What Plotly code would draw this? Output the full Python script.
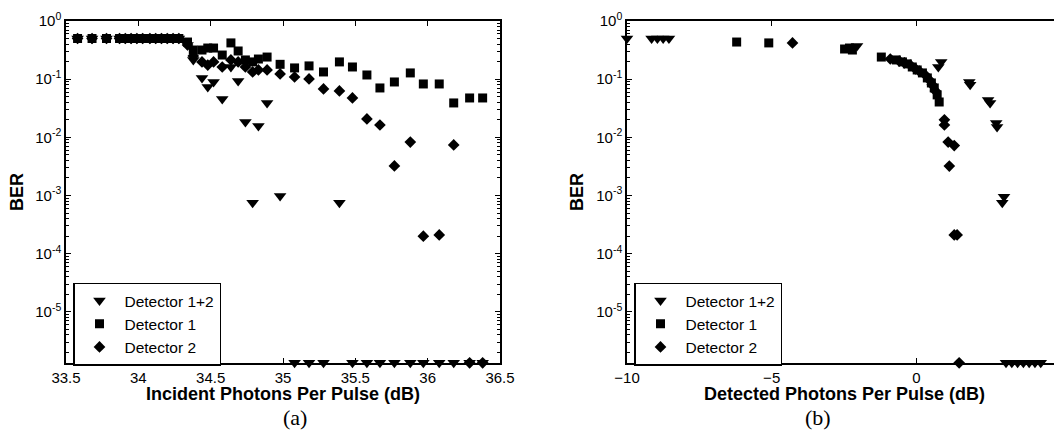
import plotly.graph_objects as go

# ---------------- data: panel (a) ----------------
FLOOR = 1.33e-6  # points plotted on the bottom axis (error-free)

inc_x = [33.58, 33.68, 33.78, 33.87, 33.91, 33.95, 33.99, 34.03, 34.08, 34.12, 34.16,
         34.20, 34.24, 34.28, 34.34, 34.38, 34.44, 34.48, 34.52, 34.58, 34.64, 34.69,
         34.74, 34.79, 34.83, 34.89, 34.98, 35.08, 35.18, 35.28, 35.39, 35.48, 35.58,
         35.67, 35.77, 35.88, 35.97, 36.08, 36.18, 36.29, 36.38]

inc_det12 = [0.5] * 14 + [0.387, 0.214, 0.105, 0.0734, 0.0895, 0.0457, 0.162, 0.093,
                          0.0184, 7.5e-4, 0.0157, 0.039, 9.8e-4,
                          FLOOR, FLOOR, FLOOR, 7.5e-4, FLOOR, FLOOR, FLOOR, FLOOR,
                          FLOOR, FLOOR, FLOOR, FLOOR, FLOOR, FLOOR]
inc_det1 = [0.5] * 14 + [0.435, 0.317, 0.317, 0.343, 0.343, 0.26, 0.42, 0.305, 0.214,
                         0.198, 0.222, 0.24, 0.18, 0.156, 0.169, 0.133, 0.198, 0.162,
                         0.118, 0.0706, 0.0895, 0.128, 0.0827, 0.0827, 0.039, 0.0475,
                         0.0475]
inc_det2 = [0.5] * 14 + [0.387, 0.25, 0.198, 0.175, 0.198, 0.162, 0.214, 0.198, 0.162,
                         0.133, 0.144, 0.144, 0.123, 0.109, 0.101, 0.068, 0.0627,
                         0.0475, 0.0207, 0.0163, 0.00322, 0.0083, 2.0e-4, 2.1e-4,
                         0.0074, FLOOR, FLOOR]

# ---------------- data: panel (b) ----------------
det_x12 = [-10.0, -9.15, -8.95, -8.75, -8.55, -2.05, 0.76, 0.86, 1.83, 1.86, 2.48, 2.55,
           2.76, 2.79, 2.97, 3.03, 3.10, 3.30, 3.50, 3.70, 3.90, 4.10, 4.30]
det_y12 = [0.5, 0.5, 0.5, 0.5, 0.5, 0.372, 0.162, 0.198, 0.0895, 0.08, 0.044, 0.039,
           0.0177, 0.015, 7.5e-4, 9.5e-4, FLOOR, FLOOR, FLOOR, FLOOR, FLOOR, FLOOR, FLOOR]

det_x1 = [-6.21, -5.10, -2.48, -2.31, -2.21, -1.21, -0.69, -0.48, -0.31, -0.14, 0.03,
          0.21, 0.38, 0.52, 0.62, 0.72, 0.79]
det_y1 = [0.435, 0.42, 0.33, 0.343, 0.317, 0.24, 0.214, 0.198, 0.183, 0.162, 0.144,
          0.128, 0.105, 0.086, 0.0706, 0.0537, 0.0405]

det_x2 = [-4.28, -0.90, -0.59, -0.41, -0.21, -0.03, 0.10, 0.31, 0.45, 0.55, 0.66, 0.97,
          0.97, 1.10, 1.31, 1.14, 1.31, 1.41, 1.48]
det_y2 = [0.42, 0.222, 0.205, 0.19, 0.175, 0.15, 0.138, 0.118, 0.097, 0.08, 0.0627,
          0.02, 0.0163, 0.0083, 0.0072, 0.0032, 2.1e-4, 2.1e-4, FLOOR]

series_names = ["Detector 1+2", "Detector 1", "Detector 2"]
y_tickvals = [1e-5, 1e-4, 1e-3, 1e-2, 1e-1, 1]
y_ticktext = ["10<sup>-5</sup>", "10<sup>-4</sup>", "10<sup>-3</sup>", "10<sup>-2</sup>",
              "10<sup>-1</sup>", "10<sup>0</sup>"]
x_ticks_a = [33.5, 34, 34.5, 35, 35.5, 36, 36.5]
x_ticks_b = [-10, -5, 0, 5]

FONT = "Liberation Sans, Arial, sans-serif"
# page body has an 8px margin: figure sits at (8, 8) in the 1062x438 window
OFF = 8
W, H = 1062 - OFF, 438 - OFF

fig = go.Figure()

markers = [dict(symbol="triangle-down", size=11),
           dict(symbol="square", size=9),
           dict(symbol="diamond", size=9)]

for xs, ys, name, mk in zip([inc_x, inc_x, inc_x], [inc_det12, inc_det1, inc_det2],
                            series_names, markers):
    fig.add_trace(go.Scatter(x=xs, y=ys, mode="markers", name=name,
                             marker=dict(color="black", line=dict(width=0), **mk),
                             cliponaxis=False, xaxis="x", yaxis="y", legend="legend"))

for xs, ys, name, mk in zip([det_x12, det_x1, det_x2], [det_y12, det_y1, det_y2],
                            series_names, markers):
    fig.add_trace(go.Scatter(x=xs, y=ys, mode="markers", name=name,
                             marker=dict(color="black", line=dict(width=0), **mk),
                             cliponaxis=False, xaxis="x2", yaxis="y2", legend="legend2"))

def px_x(p):
    return (p - OFF) / W

def px_y(p):
    return (H - (p - OFF)) / H

ydom = [px_y(363), px_y(21)]

minor_vals = [m * 10.0 ** e for e in range(-6, 0) for m in range(2, 10)]

common_x = dict(showline=True, linecolor="black", linewidth=1.5, mirror="ticks",
                ticks="inside", ticklen=5, tickcolor="black", showgrid=False,
                zeroline=False, automargin=False,
                tickfont=dict(family=FONT, size=15, color="black"))
common_y = dict(type="log", range=[-5.88, 0], showline=True, linecolor="black",
                linewidth=1.5, mirror="ticks", ticks="inside", ticklen=5,
                tickcolor="black", showgrid=False, zeroline=False, automargin=False,
                tickmode="array", tickvals=y_tickvals, ticktext=y_ticktext,
                tickfont=dict(family=FONT, size=15, color="black"),
                minor=dict(tickmode="array", tickvals=minor_vals, ticks="inside",
                           ticklen=3, tickcolor="black", showgrid=False),
                domain=ydom)

legend_common = dict(xanchor="left", yanchor="middle", bgcolor="white",
                     bordercolor="black", borderwidth=1.5,
                     font=dict(family=FONT, size=15.5, color="black"),
                     itemwidth=40, tracegroupgap=0)

fig.update_layout(
    width=W, height=H,
    margin=dict(l=0, r=0, t=0, b=0, autoexpand=False),
    paper_bgcolor="white", plot_bgcolor="white",
    font=dict(family=FONT, color="black"),
    xaxis=dict(domain=[px_x(66), px_x(500)], range=[33.5, 36.5],
               tickmode="array", tickvals=x_ticks_a, anchor="y", **common_x),
    yaxis=dict(anchor="x", **common_y),
    xaxis2=dict(domain=[px_x(627), px_x(1061)], range=[-10, 5],
                tickmode="array", tickvals=x_ticks_b, anchor="y2", **common_x),
    yaxis2=dict(anchor="x2", **common_y),
    legend=dict(x=px_x(73), y=px_y(324), **legend_common),
    legend2=dict(x=px_x(634), y=px_y(324), **legend_common),
    showlegend=True,
)

title_font = dict(family=FONT, size=18, color="black", weight="bold")
annots = [
    dict(text="Incident Photons Per Pulse (dB)", x=px_x(283), y=px_y(394), font=title_font),
    dict(text="Detected Photons Per Pulse (dB)", x=px_x(844), y=px_y(394), font=title_font),
    dict(text="BER", x=px_x(17), y=px_y(192), textangle=-90, font=title_font),
    dict(text="BER", x=px_x(577), y=px_y(192), textangle=-90, font=title_font),
    dict(text="(a)", x=px_x(295), y=px_y(417),
         font=dict(family="Liberation Serif, Times New Roman, serif", size=22, color="black")),
    dict(text="(b)", x=px_x(818), y=px_y(417),
         font=dict(family="Liberation Serif, Times New Roman, serif", size=22, color="black")),
]
for a in annots:
    fig.add_annotation(xref="paper", yref="paper", showarrow=False,
                       xanchor="center", yanchor="middle", **a)

fig.write_html("out.html")
